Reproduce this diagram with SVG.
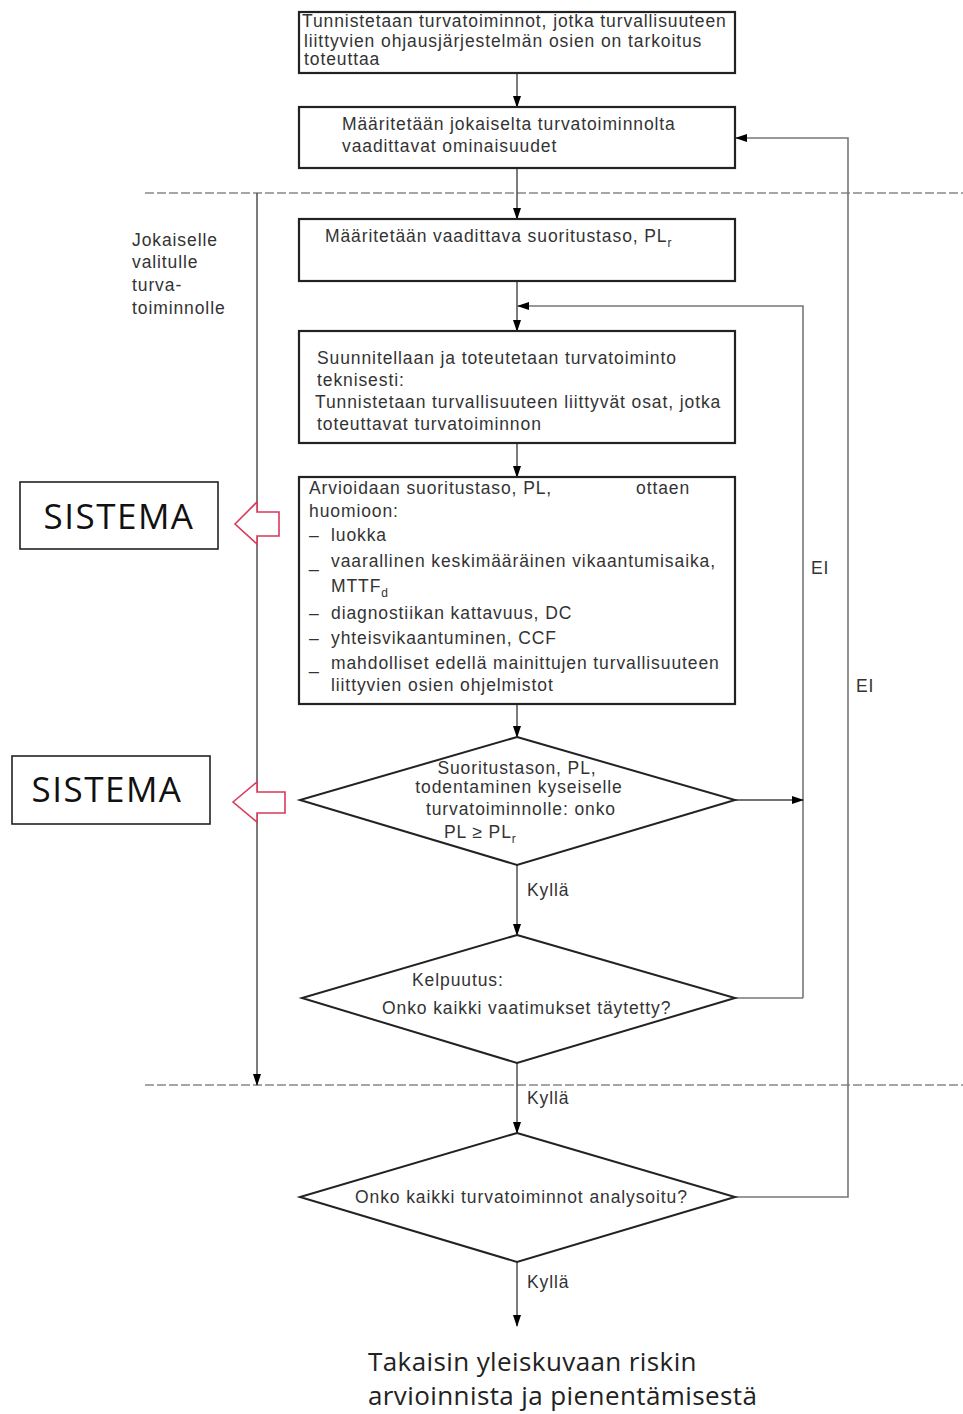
<svg xmlns="http://www.w3.org/2000/svg" width="963" height="1414" viewBox="0 0 963 1414">
<defs>
<marker id="ah" markerWidth="12" markerHeight="10" refX="11" refY="5" orient="auto" markerUnits="userSpaceOnUse">
<path d="M0,1 L12,5 L0,9 Z" fill="#000"/>
</marker>
<style>
.box{fill:#fff;stroke:#222;stroke-width:2.2}
.dia{fill:#fff;stroke:#222;stroke-width:2}
.ln{fill:none;stroke:#444;stroke-width:1.4}
.lp{fill:none;stroke:#777;stroke-width:1.6}
.dash{fill:none;stroke:#888;stroke-width:1.6;stroke-dasharray:9,3}
.t{font-family:"Liberation Sans",Arial,sans-serif;font-size:17.5px;letter-spacing:0.9px;fill:#333}
.big{font-family:"Open Sans","Noto Sans",sans-serif;font-size:35px;letter-spacing:1.5px;fill:#111}
.fin{font-family:"Open Sans","Noto Sans",sans-serif;font-size:26px;letter-spacing:0.4px;fill:#222}
.red{fill:#fff;stroke:#d83a5a;stroke-width:1.6}
.sb{fill:#fff;stroke:#222;stroke-width:1.6}
</style>
</defs>
<rect width="963" height="1414" fill="#fff"/>

<g id="connectors">
<line class="dash" x1="145" y1="193" x2="963" y2="193"/>
<line class="dash" x1="145" y1="1085" x2="963" y2="1085"/>
<line class="ln" x1="517" y1="73" x2="517" y2="107" marker-end="url(#ah)"/>
<line class="ln" x1="517" y1="168" x2="517" y2="219" marker-end="url(#ah)"/>
<line class="ln" x1="517" y1="281" x2="517" y2="331" marker-end="url(#ah)"/>
<polyline class="lp" points="803,998 803,306 518,306" marker-end="url(#ah)"/>
<line class="ln" x1="517" y1="443" x2="517" y2="477" marker-end="url(#ah)"/>
<line class="ln" x1="517" y1="704" x2="517" y2="737" marker-end="url(#ah)"/>
<line class="ln" x1="735" y1="800" x2="803" y2="800" marker-end="url(#ah)"/>
<line class="ln" x1="517" y1="865" x2="517" y2="935" marker-end="url(#ah)"/>
<line class="lp" x1="735" y1="998" x2="803" y2="998"/>
<line class="ln" x1="517" y1="1063" x2="517" y2="1133" marker-end="url(#ah)"/>
<polyline class="lp" points="735,1197 848,1197 848,138 736,138" marker-end="url(#ah)"/>
<line class="ln" x1="517" y1="1262" x2="517" y2="1326" marker-end="url(#ah)"/>
<line class="ln" x1="257" y1="193" x2="257" y2="1085" marker-end="url(#ah)"/>
<text class="t" x="527" y="896">Kyllä</text>
<text class="t" x="527" y="1104">Kyllä</text>
<text class="t" x="527" y="1288">Kyllä</text>
<text class="t" x="811" y="574">EI</text>
<text class="t" x="856" y="692">EI</text>
</g>

<g id="n1">
<rect class="box" x="299" y="12" width="436" height="61"/>
<text class="t" x="302" y="27">Tunnistetaan turvatoiminnot, jotka turvallisuuteen</text>
<text class="t" x="304" y="47">liittyvien ohjausjärjestelmän osien on tarkoitus</text>
<text class="t" x="304" y="65">toteuttaa</text>
</g>

<g id="n2">
<rect class="box" x="299" y="107" width="436" height="61"/>
<text class="t" x="342" y="130">Määritetään jokaiselta turvatoiminnolta</text>
<text class="t" x="342" y="152">vaadittavat ominaisuudet</text>
</g>

<g id="n3">
<rect class="box" x="299" y="219" width="436" height="62"/>
<text class="t" x="325" y="242">Määritetään vaadittava suoritustaso, PL<tspan font-size="12" dy="5">r</tspan></text>
</g>

<g id="n4">
<rect class="box" x="299" y="331" width="436" height="112"/>
<text class="t" x="317" y="364">Suunnitellaan ja toteutetaan turvatoiminto</text>
<text class="t" x="317" y="386">teknisesti:</text>
<text class="t" x="315" y="408">Tunnistetaan turvallisuuteen liittyvät osat, jotka</text>
<text class="t" x="317" y="430">toteuttavat turvatoiminnon</text>
</g>

<g id="n5">
<rect class="box" x="299" y="477" width="436" height="227"/>
<text class="t" x="309" y="494">Arvioidaan suoritustaso, PL,</text>
<text class="t" x="636" y="494">ottaen</text>
<text class="t" x="309" y="517">huomioon:</text>
<text class="t" x="309" y="541">–</text><text class="t" x="331" y="541">luokka</text>
<text class="t" x="309" y="567">_</text><text class="t" x="331" y="567">vaarallinen keskimääräinen vikaantumisaika,</text>
<text class="t" x="331" y="592">MTTF<tspan font-size="12" dy="5">d</tspan></text>
<text class="t" x="309" y="619">–</text><text class="t" x="331" y="619">diagnostiikan kattavuus, DC</text>
<text class="t" x="309" y="644">–</text><text class="t" x="331" y="644">yhteisvikaantuminen, CCF</text>
<text class="t" x="309" y="669">_</text><text class="t" x="331" y="669">mahdolliset edellä mainittujen turvallisuuteen</text>
<text class="t" x="331" y="691">liittyvien osien ohjelmistot</text>
</g>

<g id="d1">
<polygon class="dia" points="517,737 735,800 517,865 300,800"/>
<text class="t" x="517" y="774" text-anchor="middle">Suoritustason, PL,</text>
<text class="t" x="519" y="793" text-anchor="middle">todentaminen kyseiselle</text>
<text class="t" x="521" y="815" text-anchor="middle">turvatoiminnolle: onko</text>
<text class="t" x="444" y="838">PL ≥ PL<tspan font-size="12" dy="5">r</tspan></text>
</g>

<g id="d2">
<polygon class="dia" points="517,935 735,998 517,1063 302,998"/>
<text class="t" x="412" y="986">Kelpuutus:</text>
<text class="t" x="382" y="1014">Onko kaikki vaatimukset täytetty?</text>
</g>

<g id="d3">
<polygon class="dia" points="517,1133 735,1197 517,1262 300,1197"/>
<text class="t" x="355" y="1203">Onko kaikki turvatoiminnot analysoitu?</text>
</g>

<g id="side">
<text class="t" x="132" y="246">Jokaiselle</text>
<text class="t" x="132" y="268">valitulle</text>
<text class="t" x="132" y="291">turva-</text>
<text class="t" x="132" y="314">toiminnolle</text>
</g>

<g id="s1">
<rect class="sb" x="20" y="482" width="198" height="67"/>
<text class="big" x="119" y="529" text-anchor="middle">SISTEMA</text>
<polygon class="red" points="235,524 257,502 257,512 279,512 279,536 257,536 257,544"/>
</g>

<g id="s2">
<rect class="sb" x="12" y="756" width="198" height="68"/>
<text class="big" x="107" y="802" text-anchor="middle">SISTEMA</text>
<polygon class="red" points="233,802 257,782 257,792 285,792 285,813 257,813 257,822"/>
</g>

<g id="final">
<text class="fin" x="368" y="1371">Takaisin yleiskuvaan riskin</text>
<text class="fin" x="368" y="1405">arvioinnista ja pienentämisestä</text>
</g>
</svg>
